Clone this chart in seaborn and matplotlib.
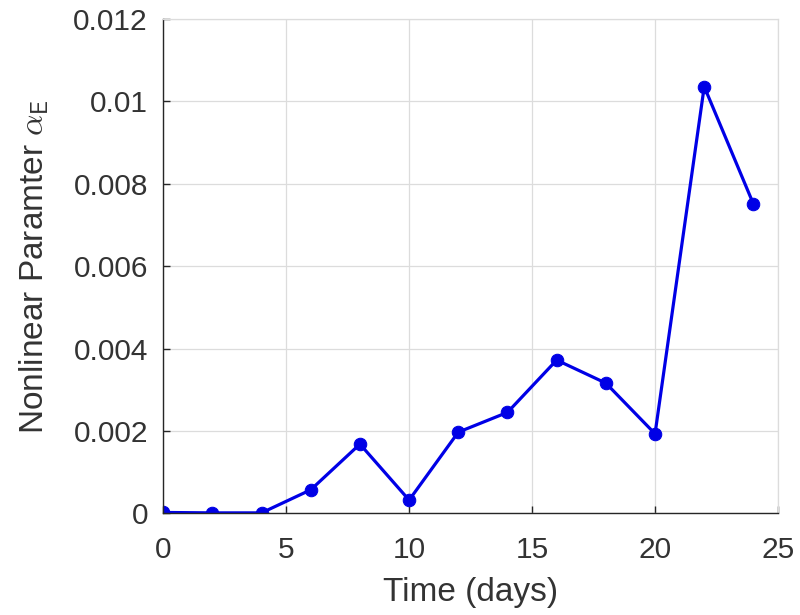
import numpy as np
import pandas as pd
import matplotlib
matplotlib.use("Agg")
import matplotlib.pyplot as plt
import seaborn as sns

# data
time_days = [0, 2, 4, 6, 8, 10, 12, 14, 16, 18, 20, 22, 24]
alpha_e = [0.00002, 0.00001, 0.00001, 0.00057, 0.00168, 0.00032, 0.00197,
           0.00245, 0.00372, 0.00316, 0.00193, 0.01036, 0.00751]
x_ticks = [0, 5, 10, 15, 20, 25]
y_ticks = [0, 0.002, 0.004, 0.006, 0.008, 0.01, 0.012]
y_tick_labels = ["0", "0.002", "0.004", "0.006", "0.008", "0.01", "0.012"]

sns.set_theme(style="whitegrid")
plt.rcParams["font.family"] = ["Liberation Sans", "DejaVu Sans"]
plt.rcParams["mathtext.fontset"] = "cm"

df = pd.DataFrame({"t": time_days, "a": alpha_e})

fig = plt.figure(figsize=(8, 6.15), dpi=100)
ax = fig.add_axes([0.204, 0.1654, 0.7685, 0.8036])

sns.lineplot(data=df, x="t", y="a", ax=ax, color="#0000e6", linewidth=2.3,
             marker="o", markersize=9, markeredgecolor="#0000e6")

ax.set_xlim(0, 25)
ax.set_ylim(0, 0.012)
ax.set_xticks(x_ticks)
ax.set_yticks(y_ticks)
ax.set_yticklabels(y_tick_labels)

ax.grid(True, color="#dcdcdc", linewidth=0.9)
for side in ["top", "right"]:
    ax.spines[side].set_color("#dcdcdc")
    ax.spines[side].set_linewidth(0.9)
for side in ["left", "bottom"]:
    ax.spines[side].set_color("#262626")
    ax.spines[side].set_linewidth(1.0)

ax.tick_params(axis="both", direction="in", length=5, width=1,
               colors="#262626", labelsize=21.5, labelcolor="#333333")
ax.tick_params(axis="x", pad=16)
ax.tick_params(axis="y", pad=11)
ax.tick_params(top=False, right=False, bottom=True, left=True)

ax.set_xlabel("Time (days)", fontsize=24, color="#333333", labelpad=10)
ax.set_ylabel(r"Nonlinear Paramter $\alpha_{\mathsf{E}}$", fontsize=24,
              color="#333333", labelpad=16)

fig.savefig("out.png", dpi=100)
